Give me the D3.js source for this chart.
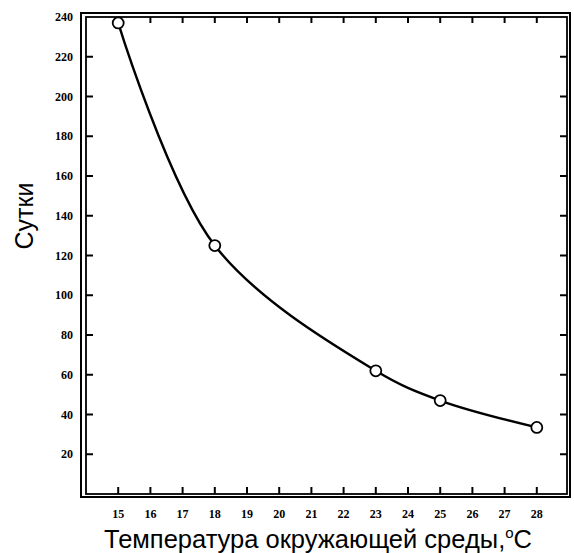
<!DOCTYPE html>
<html><head><meta charset="utf-8">
<script src="https://cdn.jsdelivr.net/npm/d3@7/dist/d3.min.js"></script>
<style>body{margin:0;background:#fff}</style>
</head><body>
<svg id="c" width="574" height="553"></svg>
<script>
const temps = [15, 18, 23, 25, 28];
const days = [237, 125, 62, 47, 33.5];
const xTicks = [15,16,17,18,19,20,21,22,23,24,25,26,27,28];
const yTicks = [20,40,60,80,100,120,140,160,180,200,220,240];
const xTitle = "Температура окружающей среды,";
const yTitle = "Сутки";

const svg = d3.select("#c");
const x = d3.scaleLinear().domain([14, 29]).range([86, 569]);
const y = d3.scaleLinear().domain([0, 240]).range([494, 17]);

// frames
svg.append("rect").attr("x", 81).attr("y", 13).attr("width", 570-81).attr("height", 497-13)
  .attr("fill","none").attr("stroke","#000").attr("stroke-width",2);
svg.append("rect").attr("x", x.range()[0]).attr("y", y(240)).attr("width", 567-86).attr("height", y(0)-y(240))
  .attr("fill","none").attr("stroke","#000").attr("stroke-width",1.8);

const tickFont = "'Liberation Serif', 'DejaVu Serif', serif";
const yIn = yTicks.filter(v => v < 240);
svg.selectAll(".lt").data(yIn).enter().append("line")
  .attr("x1", 86).attr("x2", 93).attr("y1", d=>y(d)).attr("y2", d=>y(d))
  .attr("stroke","#000").attr("stroke-width",2);
svg.selectAll(".rt").data(yIn).enter().append("line")
  .attr("x1", 567).attr("x2", 560).attr("y1", d=>y(d)).attr("y2", d=>y(d))
  .attr("stroke","#000").attr("stroke-width",2);
svg.selectAll(".yl").data(yTicks).enter().append("text")
  .attr("x", 73).attr("y", d=>y(d)).attr("dy","0.35em").attr("text-anchor","end")
  .attr("font-family", tickFont).attr("font-weight","bold").attr("font-size",12)
  .text(d=>d);

svg.selectAll(".bt").data(xTicks).enter().append("line")
  .attr("x1", d=>x(d)).attr("x2", d=>x(d)).attr("y1", y(0)).attr("y2", y(0)-7)
  .attr("stroke","#000").attr("stroke-width",2);
svg.selectAll(".tt").data(xTicks).enter().append("line")
  .attr("x1", d=>x(d)).attr("x2", d=>x(d)).attr("y1", y(240)).attr("y2", y(240)+6)
  .attr("stroke","#000").attr("stroke-width",2);
svg.selectAll(".xl").data(xTicks).enter().append("text")
  .attr("x", d=>x(d)).attr("y", 518).attr("text-anchor","middle")
  .attr("font-family", tickFont).attr("font-weight","bold").attr("font-size",12)
  .text(d=>d);

// curve
const pts = temps.map((t,i)=>[t, days[i]]);
const line = d3.line().x(d=>x(d[0])).y(d=>y(d[1])).curve(d3.curveCatmullRom.alpha(0.5));
svg.append("path").datum(pts).attr("d", line).attr("fill","none")
  .attr("stroke","#000").attr("stroke-width",2.4);
svg.selectAll(".pt").data(pts).enter().append("circle")
  .attr("cx", d=>x(d[0])).attr("cy", d=>y(d[1])).attr("r",5.5)
  .attr("fill","#fff").attr("stroke","#000").attr("stroke-width",1.8);

// titles
const tt = svg.append("text").attr("x", 318).attr("y", 548).attr("text-anchor","middle")
  .attr("font-family","'Liberation Sans', Arial, sans-serif").attr("font-size",25.5).attr("fill","#000");
tt.append("tspan").text(xTitle);
tt.append("tspan").attr("font-size",15).attr("dy",-10).text("o");
tt.append("tspan").attr("dy",10).text("C");

svg.append("text").attr("transform","translate(33,216) rotate(-90)").attr("text-anchor","middle")
  .attr("font-family","'Liberation Sans', Arial, sans-serif").attr("font-size",25).attr("fill","#000")
  .text(yTitle);
</script>
</body></html>
